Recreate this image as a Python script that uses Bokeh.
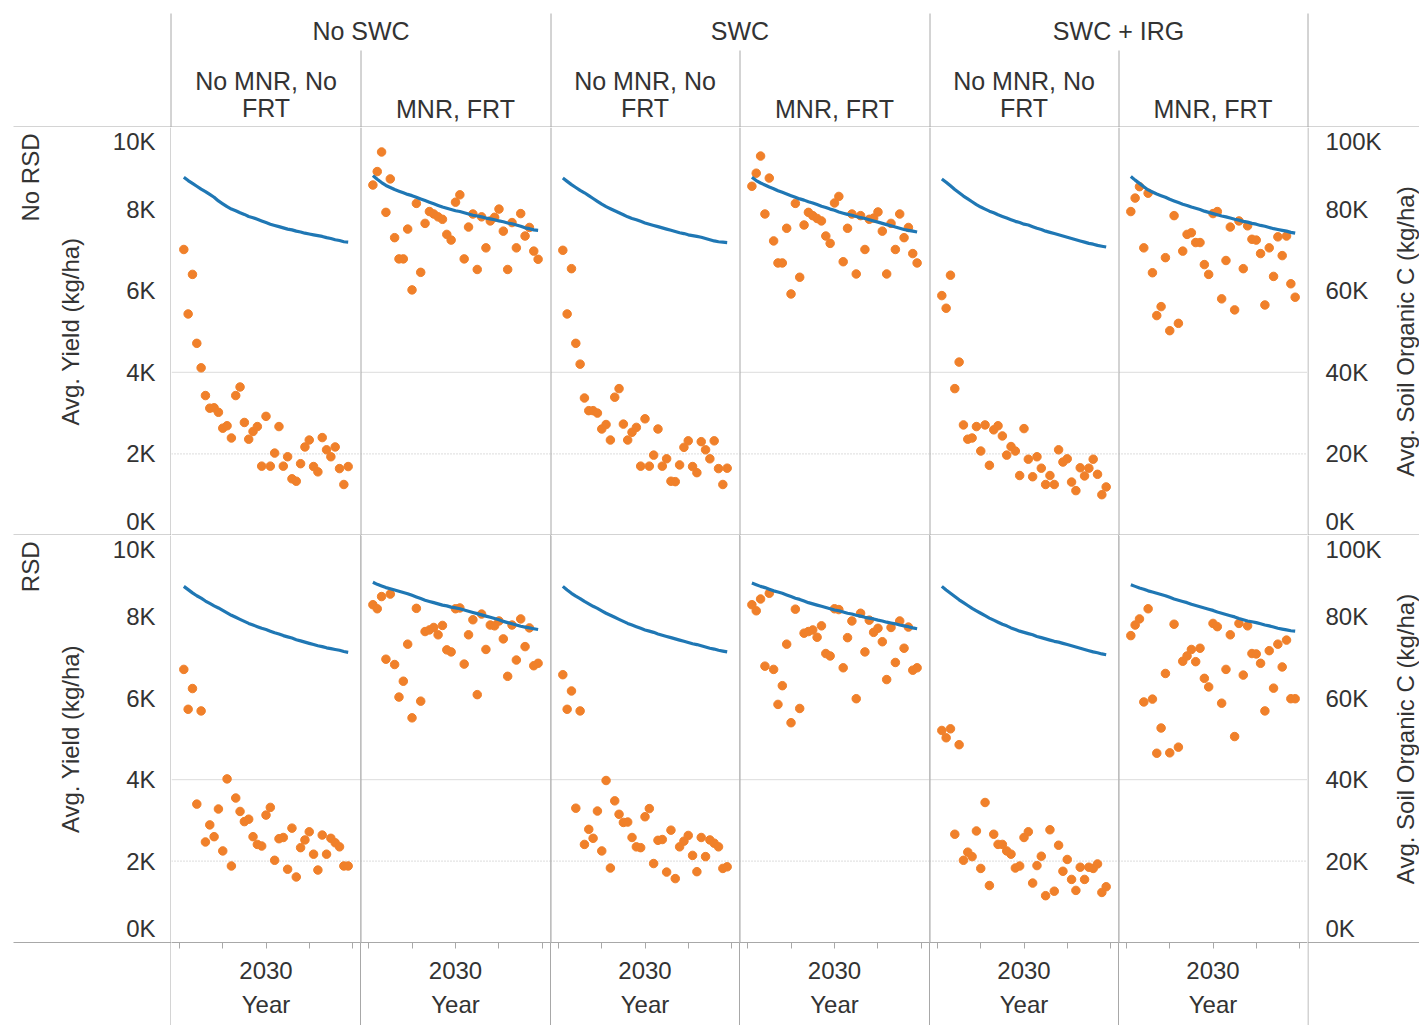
import math

from bokeh.core.properties import value
from bokeh.embed import file_html
from bokeh.layouts import column, row
from bokeh.models import FixedTicker, LinearAxis, Range1d, Span
from bokeh.plotting import figure
from bokeh.resources import INLINE

# ---------------------------------------------------------------- data
YEARS = list(range(2011, 2050))

RESIDUE = ["No RSD", "RSD"]
PRACTICE = ["No SWC", "SWC", "SWC + IRG"]
INPUTS = ["No MNR, No\nFRT", "MNR, FRT"]

YIELD_TICKS = [0, 2000, 4000, 6000, 8000, 10000]
YIELD_LABELS = ["0K", "2K", "4K", "6K", "8K", "10K"]
SOC_TICKS = [0, 20000, 40000, 60000, 80000, 100000]
SOC_LABELS = ["0K", "20K", "40K", "60K", "80K", "100K"]
YEAR_TICKS = [2010, 2020, 2030, 2040, 2050]
YEAR_LABELS = ["", "", "2030", "", ""]

# Avg. yield (kg/ha), one value per year 2011-2049
YLD_NORSD_NOSWC_NOMNR = [7010, 5430, 6400, 4710, 4110, 3430, 3120, 3130, 3020, 2630,
                         2690, 2390, 3430, 3640, 2770, 2360, 2550, 2670, 1700, 2920,
                         1700, 2020, 2670, 1700, 1930, 1390, 1330, 1760, 2170, 2340,
                         1690, 1560, 2400, 2100, 1930, 2170, 1640, 1250, 1690]
YLD_NORSD_NOSWC_MNR = [8590, 8920, 9400, 7920, 8740, 7300, 6780, 6780, 7510, 6020,
                       8140, 6450, 7650, 7940, 7880, 7810, 7750, 7380, 7240, 8170,
                       8350, 6780, 7560, 7880, 6520, 7810, 7050, 7710, 7800, 8000,
                       7460, 6520, 7670, 7050, 7890, 7340, 7550, 6970, 6770]
YLD_NORSD_SWC_NOMNR = [6990, 5430, 6540, 4710, 4200, 3370, 3060, 3060, 3000, 2610,
                       2720, 2340, 3390, 3600, 2730, 2340, 2530, 2650, 1700, 2860,
                       1700, 1970, 2610, 1700, 1880, 1330, 1320, 1730, 2160, 2320,
                       1690, 1540, 2300, 2100, 1880, 2320, 1640, 1250, 1650]
YLD_NORSD_SWC_MNR = [8560, 8880, 9300, 7880, 8760, 7220, 6680, 6680, 7530, 5920,
                     8140, 6330, 7610, 7920, 7840, 7770, 7710, 7340, 7160, 8150,
                     8310, 6710, 7530, 7880, 6410, 7840, 7010, 7750, 7780, 7930,
                     7460, 6410, 7650, 7010, 7880, 7300, 7550, 6910, 6680]
YLD_NORSD_IRG_NOMNR = [5880, 5570, 6380, 3600, 4250, 2710, 2360, 2390, 2670, 2070,
                       2710, 1720, 2590, 2690, 2440, 1970, 2180, 2070, 1470, 2620,
                       1870, 1440, 1930, 1650, 1250, 1470, 1250, 2100, 1800, 1880,
                       1310, 1100, 1660, 1460, 1650, 1870, 1500, 1000, 1190]
YLD_NORSD_IRG_MNR = [7940, 8270, 8550, 7050, 8390, 6440, 5390, 5610, 6810, 5020,
                     7840, 5200, 6970, 7380, 7420, 7180, 7180, 6640, 6400, 7890,
                     7940, 5800, 6740, 7560, 5530, 7710, 6540, 7590, 7260, 7240,
                     6910, 5650, 7050, 6350, 7320, 6860, 7340, 6170, 5840]
YLD_RSD_NOSWC_NOMNR = [6710, 5730, 6240, 3400, 5690, 2470, 2890, 2600, 3280, 2250,
                       4020, 1880, 3550, 3220, 2970, 3030, 2600, 2410, 2370, 3130,
                       3320, 2020, 2550, 2580, 1800, 2810, 1610, 2330, 2520, 2720,
                       2170, 1780, 2640, 2170, 2560, 2450, 2350, 1880, 1880]
YLD_RSD_NOSWC_MNR = [8300, 8200, 8500, 6960, 8560, 6830, 6030, 6420, 7330, 5520,
                     8210, 5930, 7640, 7680, 7740, 7560, 7790, 7190, 7140, 8200,
                     8220, 6840, 7560, 7930, 6090, 8070, 7200, 7800, 7780, 7900,
                     7460, 6540, 7800, 6940, 7950, 7270, 7730, 6800, 6860]
YLD_RSD_SWC_NOMNR = [6580, 5730, 6180, 3300, 5690, 2410, 2780, 2560, 3230, 2250,
                     3980, 1830, 3480, 3150, 2950, 2960, 2580, 2350, 2330, 3090,
                     3290, 1940, 2510, 2530, 1730, 2760, 1570, 2350, 2490, 2630,
                     2140, 1740, 2580, 2110, 2520, 2440, 2350, 1820, 1860]
YLD_RSD_SWC_MNR = [8300, 8150, 8440, 6790, 8580, 6710, 5850, 6310, 7330, 5400,
                   8190, 5750, 7600, 7640, 7680, 7500, 7780, 7100, 7040, 8200,
                   8180, 6750, 7490, 7900, 5990, 8090, 7140, 7920, 7620, 7720,
                   7390, 6460, 7740, 6880, 7900, 7230, 7750, 6690, 6750]
YLD_RSD_IRG_NOMNR = [5210, 5030, 5250, 2660, 4860, 2020, 2220, 2110, 2740, 1820,
                     3440, 1400, 2660, 2410, 2410, 2250, 2170, 1830, 1880, 2580,
                     2720, 1460, 1890, 2120, 1150, 2770, 1260, 2390, 1750, 2040,
                     1550, 1280, 1850, 1550, 1850, 1820, 1930, 1230, 1370]
YLD_RSD_IRG_MNR = [7540, 7800, 7950, 5910, 8200, 5980, 4650, 5270, 6610, 4660,
                   7820, 4800, 6910, 7040, 7200, 6900, 7230, 6490, 6280, 7840,
                   7760, 5880, 6710, 7560, 5060, 7840, 6570, 7780, 7100, 7090,
                   6860, 5690, 7170, 6250, 7330, 6770, 7430, 5990, 5990]

# Avg. soil organic C (kg/ha), one value per year 2011-2049
SOC_NORSD_NOSWC_NOMNR = [87800, 87000, 86300, 85600, 84900, 84300, 83600, 82900, 82000, 81300,
                         80600, 80000, 79600, 79100, 78700, 78200, 77900, 77500, 77100, 76700,
                         76300, 76000, 75700, 75400, 75100, 74900, 74600, 74400, 74100, 73900,
                         73700, 73500, 73300, 73000, 72800, 72500, 72300, 72000, 71900]
SOC_NORSD_NOSWC_MNR = [88200, 87300, 86500, 85800, 85300, 84800, 84400, 84000, 83600, 83300,
                       82900, 82500, 82100, 81700, 81300, 80900, 80500, 80200, 79900, 79600,
                       79400, 79100, 78800, 78500, 78300, 78100, 77800, 77600, 77400, 77100,
                       76900, 76600, 76400, 76100, 75800, 75400, 75200, 74900, 74800]
SOC_NORSD_SWC_NOMNR = [87600, 86800, 86000, 85300, 84600, 84000, 83300, 82600, 81900, 81200,
                       80600, 80100, 79600, 79100, 78600, 78100, 77700, 77400, 77000, 76600,
                       76300, 76000, 75700, 75400, 75100, 74800, 74500, 74200, 74000, 73700,
                       73500, 73300, 73100, 72800, 72500, 72200, 72000, 71900, 71800]
SOC_NORSD_SWC_MNR = [87800, 87000, 86400, 85900, 85400, 85000, 84500, 84100, 83700, 83300,
                     82900, 82500, 82200, 81800, 81500, 81100, 80700, 80400, 80000, 79700,
                     79300, 79000, 78700, 78500, 78200, 77900, 77700, 77400, 77100, 76800,
                     76500, 76200, 75900, 75600, 75300, 75000, 74800, 74600, 74400]
SOC_NORSD_IRG_NOMNR = [87400, 86600, 85700, 84800, 84000, 83200, 82500, 81800, 81100, 80500,
                       80000, 79500, 79100, 78600, 78200, 77800, 77400, 77000, 76700, 76300,
                       76100, 75700, 75300, 75000, 74600, 74300, 74000, 73700, 73400, 73100,
                       72800, 72500, 72200, 71900, 71600, 71400, 71100, 70900, 70700]
SOC_NORSD_IRG_MNR = [88000, 87100, 86300, 85500, 84700, 84200, 83700, 83300, 82900, 82400,
                     82000, 81600, 81200, 80900, 80500, 80200, 79900, 79500, 79200, 78900,
                     78600, 78300, 78100, 77800, 77500, 77300, 77000, 76800, 76500, 76300,
                     76000, 75800, 75500, 75200, 75000, 74800, 74600, 74300, 74100]
SOC_RSD_NOSWC_NOMNR = [87500, 86700, 85900, 85200, 84600, 83900, 83300, 82700, 82200, 81600,
                       81000, 80400, 79900, 79400, 78900, 78400, 78000, 77600, 77200, 76900,
                       76500, 76100, 75800, 75400, 75100, 74800, 74400, 74100, 73800, 73500,
                       73200, 72900, 72700, 72400, 72200, 72000, 71800, 71500, 71300]
SOC_RSD_NOSWC_MNR = [88500, 88000, 87600, 87200, 86900, 86600, 86300, 86000, 85700, 85300,
                     84900, 84500, 84100, 83800, 83500, 83200, 82900, 82700, 82400, 82200,
                     82000, 81700, 81400, 81100, 80800, 80500, 80200, 79900, 79600, 79300,
                     78900, 78600, 78300, 78000, 77700, 77500, 77300, 77100, 76900]
SOC_RSD_SWC_NOMNR = [87500, 86600, 85800, 85100, 84500, 83800, 83200, 82600, 82100, 81500,
                     80900, 80400, 79900, 79400, 78900, 78400, 78000, 77600, 77200, 76800,
                     76500, 76200, 75800, 75500, 75200, 74900, 74600, 74300, 74000, 73700,
                     73400, 73200, 72900, 72600, 72300, 72100, 71800, 71600, 71400]
SOC_RSD_SWC_MNR = [88300, 87900, 87500, 87200, 86800, 86400, 86100, 85800, 85400, 85000,
                   84600, 84300, 83900, 83500, 83200, 82900, 82600, 82300, 82000, 81700,
                   81500, 81200, 80900, 80700, 80400, 80200, 79900, 79700, 79500, 79200,
                   79000, 78700, 78500, 78300, 78000, 77800, 77600, 77300, 77100]
SOC_RSD_IRG_NOMNR = [87500, 86600, 85800, 85000, 84200, 83500, 82800, 82100, 81500, 80900,
                     80300, 79700, 79200, 78700, 78200, 77800, 77300, 76900, 76500, 76200,
                     75900, 75600, 75200, 74900, 74600, 74300, 74000, 73800, 73500, 73200,
                     72900, 72600, 72300, 72000, 71700, 71400, 71200, 70900, 70700]
SOC_RSD_IRG_MNR = [87900, 87500, 87100, 86800, 86400, 86100, 85800, 85500, 85200, 84800,
                   84400, 84100, 83800, 83500, 83100, 82800, 82500, 82200, 81900, 81600,
                   81200, 80900, 80600, 80300, 80000, 79600, 79300, 79000, 78800, 78600,
                   78300, 78000, 77800, 77500, 77200, 77000, 76800, 76600, 76500]

YIELD = [
    [YLD_NORSD_NOSWC_NOMNR, YLD_NORSD_NOSWC_MNR, YLD_NORSD_SWC_NOMNR,
     YLD_NORSD_SWC_MNR, YLD_NORSD_IRG_NOMNR, YLD_NORSD_IRG_MNR],
    [YLD_RSD_NOSWC_NOMNR, YLD_RSD_NOSWC_MNR, YLD_RSD_SWC_NOMNR,
     YLD_RSD_SWC_MNR, YLD_RSD_IRG_NOMNR, YLD_RSD_IRG_MNR],
]
SOC = [
    [SOC_NORSD_NOSWC_NOMNR, SOC_NORSD_NOSWC_MNR, SOC_NORSD_SWC_NOMNR,
     SOC_NORSD_SWC_MNR, SOC_NORSD_IRG_NOMNR, SOC_NORSD_IRG_MNR],
    [SOC_RSD_NOSWC_NOMNR, SOC_RSD_NOSWC_MNR, SOC_RSD_SWC_NOMNR,
     SOC_RSD_SWC_MNR, SOC_RSD_IRG_NOMNR, SOC_RSD_IRG_MNR],
]

# ---------------------------------------------------------------- style
FONT = "Liberation Sans"
TXT = "#333333"
RULE = "#a8a8a8"
BLUE = "#1f77b4"
ORANGE = "#f0802a"

LEFT_W, RIGHT_W, HEAD_H, FOOT_H = 171, 112, 127, 83
FW = [189, 190, 189, 190, 189, 189]
FH = [408, 407]
X0, X1 = 2008.15, 2051.85
YMAX, SOCMAX = 10000, 100000

EDGES = [LEFT_W]
for w in FW:
    EDGES.append(EDGES[-1] + w)
TOTAL_W = EDGES[-1] + RIGHT_W


def base_fig(w, h, xr, yr, **kw):
    return figure(frame_width=w, frame_height=h, x_range=xr, y_range=yr,
                  x_axis_type=None, y_axis_type=None,
                  output_backend="svg", toolbar_location=None,
                  min_border=0, outline_line_color=None,
                  background_fill_color="white", **kw)


def text_kw(size="24px"):
    return dict(text_font=value(FONT), text_font_size=size, text_color=TXT)


def panel(r, c):
    bottom = r == 1
    kw = {}
    if bottom:
        kw["min_border_bottom"] = FOOT_H
        kw["border_fill_color"] = None
        if c > 0:
            # divider running down through the year-axis strip
            kw["styles"] = {"background": f"linear-gradient(to right, {RULE} 1px, #ffffff 1px)"}
        else:
            kw["styles"] = {"background": "#ffffff"}
    else:
        kw["border_fill_color"] = "white"
    p = base_fig(FW[c], FH[r], Range1d(X0, X1), Range1d(0, YMAX), **kw)
    p.extra_y_ranges = {"soc": Range1d(0, SOCMAX)}

    # reference lines and pane dividers
    p.add_layout(Span(location=4000, dimension="width", line_color="#dcdcdc",
                      line_width=1, level="underlay"))
    p.add_layout(Span(location=2000, dimension="width", line_color="#b8b8b8",
                      line_width=1, line_dash="1 2", level="underlay"))
    if c > 0:
        p.add_layout(Span(location=X0, dimension="height", line_color=RULE, line_width=2))
    if r == 0:
        p.add_layout(Span(location=0, dimension="width", line_color=RULE, line_width=2))

    # yield points and soil organic carbon line
    p.scatter(YEARS, YIELD[r][c], size=8.5, fill_color=ORANGE, line_color=ORANGE)
    p.line(YEARS, SOC[r][c], y_range_name="soc", line_color=BLUE, line_width=3.2)

    if bottom:
        xa = LinearAxis(ticker=FixedTicker(ticks=YEAR_TICKS),
                        major_label_overrides=dict(zip(YEAR_TICKS, YEAR_LABELS)),
                        axis_label="Year",
                        axis_line_color=RULE, major_tick_line_color=RULE,
                        major_tick_out=6, major_tick_in=0,
                        minor_tick_line_color=None,
                        major_label_standoff=13, axis_label_standoff=9,
                        major_label_text_font=FONT, major_label_text_font_size="24px",
                        major_label_text_color=TXT,
                        axis_label_text_font=FONT, axis_label_text_font_size="24px",
                        axis_label_text_font_style="normal", axis_label_text_color=TXT)
        p.add_layout(xa, "below")
    return p


def margin(r, side):
    """Axis strip left or right of a row of panes (tick labels, title, row header)."""
    left = side == "left"
    w = LEFT_W if left else RIGHT_W
    top = YMAX if left else SOCMAX
    ext = FOOT_H if r == 1 else 0
    yr = Range1d(-top * ext / FH[r], top)
    p = base_fig(w, FH[r] + ext, Range1d(0, w), yr, border_fill_color="white")

    ticks = YIELD_TICKS if left else SOC_TICKS
    labels = YIELD_LABELS if left else SOC_LABELS
    inner = ticks[1:-1]
    tx = w - 16 if left else 18
    align = "right" if left else "left"
    p.text(x=[tx] * len(inner), y=inner, text=labels[1:-1],
           text_align=align, text_baseline="middle", **text_kw())
    # end labels are nudged inside the pane, as in the source layout
    p.text(x=[tx, tx], y=[ticks[-1], ticks[0]], text=[labels[-1], labels[0]],
           y_offset=[14, -14], text_align=align, text_baseline="middle", **text_kw())

    title = "Avg. Yield (kg/ha)" if left else "Avg. Soil Organic C (kg/ha)"
    p.text(x=[70 if left else 98], y=[top / 2], text=[title], angle=math.pi / 2,
           text_align="center", text_baseline="middle", **text_kw())
    if left:
        p.text(x=[30], y=[top], text=[RESIDUE[r]], y_offset=6, angle=math.pi / 2,
               text_align="right", text_baseline="middle", **text_kw())

    # row divider and pane edge
    p.segment(x0=[13 if left else 0], y0=[0], x1=[w], y1=[0],
              line_color=RULE, line_width=2 if r == 0 else 1)
    p.add_layout(Span(location=w - 0.5 if left else 0.5, dimension="height",
                      line_color=RULE, line_width=1))
    return p


# ---------------------------------------------------------------- column headers
head = base_fig(TOTAL_W, HEAD_H, Range1d(0, TOTAL_W), Range1d(HEAD_H, 0),
                border_fill_color="white")

group_x = [(EDGES[2 * i] + EDGES[2 * i + 2]) / 2 for i in range(len(PRACTICE))]
head.text(x=group_x, y=[30] * len(PRACTICE), text=PRACTICE,
          text_align="center", text_baseline="middle", **text_kw("25px"))

sub_x = [(EDGES[i] + EDGES[i + 1]) / 2 for i in range(6)]
sub_text = [INPUTS[i % 2] for i in range(6)]
head.text(x=sub_x, y=[122] * 6, text=sub_text,
          text_align="center", text_baseline="bottom", text_line_height=0.98,
          **text_kw("25px"))

gx = [EDGES[0] - 0.5] + [EDGES[i] + 0.5 for i in (2, 4, 6)]
head.segment(x0=gx, y0=[13] * 4, x1=gx, y1=[HEAD_H] * 4, line_color=RULE, line_width=1)
sx = [EDGES[i] + 0.5 for i in (1, 3, 5)]
head.segment(x0=sx, y0=[50] * 3, x1=sx, y1=[HEAD_H] * 3, line_color=RULE, line_width=1)
head.segment(x0=[13], y0=[HEAD_H - 0.5], x1=[TOTAL_W], y1=[HEAD_H - 0.5],
             line_color=RULE, line_width=1)

rows = [row(margin(r, "left"), *[panel(r, c) for c in range(6)], margin(r, "right"))
        for r in range(2)]
layout = column(head, *rows)

open("out.html", "w").write(file_html(layout, INLINE))
